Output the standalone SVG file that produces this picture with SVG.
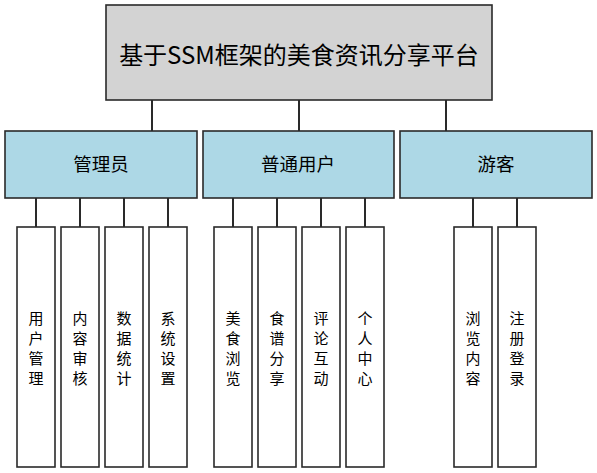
<svg xmlns="http://www.w3.org/2000/svg" width="597" height="473" viewBox="0 0 597 473">
<style>
.box{stroke:#2a2a2a;stroke-width:1.6}
.top{fill:#d3d3d3}
.mid{fill:#add8e6}
.leaf{fill:#ffffff}
.t{font-family:"Microsoft YaHei","Noto Sans CJK SC","Noto Sans",sans-serif;fill:#000;text-anchor:middle;dominant-baseline:central}
.tt{font-size:24px}
.mt{font-size:18.5px}
.lt{font-size:15px}
#connectors line{stroke:#2a2a2a;stroke-width:2}
</style>
<rect width="597" height="473" fill="#fff"/>
<g id="connectors">
<line x1="152" y1="100" x2="152" y2="131"/>
<line x1="299" y1="100" x2="299" y2="131"/>
<line x1="446" y1="100" x2="446" y2="131"/>
<line x1="36" y1="198" x2="36" y2="227"/>
<line x1="80" y1="198" x2="80" y2="227"/>
<line x1="124" y1="198" x2="124" y2="227"/>
<line x1="168" y1="198" x2="168" y2="227"/>
<line x1="233" y1="198" x2="233" y2="227"/>
<line x1="277" y1="198" x2="277" y2="227"/>
<line x1="321" y1="198" x2="321" y2="227"/>
<line x1="365" y1="198" x2="365" y2="227"/>
<line x1="473" y1="198" x2="473" y2="227"/>
<line x1="517" y1="198" x2="517" y2="227"/>
</g>
<g id="root"><rect class="box top" x="106" y="5" width="386" height="95"/><text class="t tt" x="299" y="53">基于SSM框架的美食资讯分享平台</text></g>
<g id="admin"><rect class="box mid" x="5" y="131" width="192" height="67"/><text class="t mt" x="101" y="163">管理员</text></g>
<g id="user"><rect class="box mid" x="203" y="131" width="191" height="67"/><text class="t mt" x="298" y="163">普通用户</text></g>
<g id="guest"><rect class="box mid" x="400" y="131" width="192" height="67"/><text class="t mt" x="496" y="163">游客</text></g>
<g id="n1"><rect class="box leaf" x="17" y="227" width="38" height="240"/><text class="t lt" x="36"><tspan x="36" y="317">用</tspan><tspan x="36" y="337">户</tspan><tspan x="36" y="357">管</tspan><tspan x="36" y="377">理</tspan></text></g>
<g id="n2"><rect class="box leaf" x="61" y="227" width="38" height="240"/><text class="t lt" x="80"><tspan x="80" y="317">内</tspan><tspan x="80" y="337">容</tspan><tspan x="80" y="357">审</tspan><tspan x="80" y="377">核</tspan></text></g>
<g id="n3"><rect class="box leaf" x="105" y="227" width="38" height="240"/><text class="t lt" x="124"><tspan x="124" y="317">数</tspan><tspan x="124" y="337">据</tspan><tspan x="124" y="357">统</tspan><tspan x="124" y="377">计</tspan></text></g>
<g id="n4"><rect class="box leaf" x="149" y="227" width="38" height="240"/><text class="t lt" x="168"><tspan x="168" y="317">系</tspan><tspan x="168" y="337">统</tspan><tspan x="168" y="357">设</tspan><tspan x="168" y="377">置</tspan></text></g>
<g id="n5"><rect class="box leaf" x="214" y="227" width="38" height="240"/><text class="t lt" x="233"><tspan x="233" y="317">美</tspan><tspan x="233" y="337">食</tspan><tspan x="233" y="357">浏</tspan><tspan x="233" y="377">览</tspan></text></g>
<g id="n6"><rect class="box leaf" x="258" y="227" width="38" height="240"/><text class="t lt" x="277"><tspan x="277" y="317">食</tspan><tspan x="277" y="337">谱</tspan><tspan x="277" y="357">分</tspan><tspan x="277" y="377">享</tspan></text></g>
<g id="n7"><rect class="box leaf" x="302" y="227" width="38" height="240"/><text class="t lt" x="321"><tspan x="321" y="317">评</tspan><tspan x="321" y="337">论</tspan><tspan x="321" y="357">互</tspan><tspan x="321" y="377">动</tspan></text></g>
<g id="n8"><rect class="box leaf" x="346" y="227" width="38" height="240"/><text class="t lt" x="365"><tspan x="365" y="317">个</tspan><tspan x="365" y="337">人</tspan><tspan x="365" y="357">中</tspan><tspan x="365" y="377">心</tspan></text></g>
<g id="n9"><rect class="box leaf" x="454" y="227" width="38" height="240"/><text class="t lt" x="473"><tspan x="473" y="317">浏</tspan><tspan x="473" y="337">览</tspan><tspan x="473" y="357">内</tspan><tspan x="473" y="377">容</tspan></text></g>
<g id="n10"><rect class="box leaf" x="498" y="227" width="38" height="240"/><text class="t lt" x="517"><tspan x="517" y="317">注</tspan><tspan x="517" y="337">册</tspan><tspan x="517" y="357">登</tspan><tspan x="517" y="377">录</tspan></text></g>
</svg>
